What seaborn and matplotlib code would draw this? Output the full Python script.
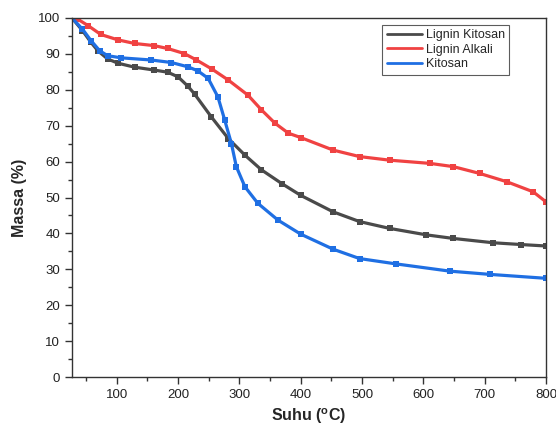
import numpy as np
import pandas as pd
import seaborn as sns
import matplotlib.pyplot as plt
from matplotlib.lines import Line2D
from matplotlib.ticker import MultipleLocator

# TGA curves
suhu_lk = [27, 44, 58, 69, 85, 102, 129, 161, 183, 200, 216, 227, 254, 282, 309, 336,
           369, 400, 453, 496, 545, 605, 649, 714, 760, 800]
massa_lk = [100, 96.5, 93.2, 90.9, 88.6, 87.4, 86.3, 85.5, 84.9, 83.6, 81.0, 78.8, 72.5, 66.4,
            61.8, 57.7, 53.9, 50.6, 46.0, 43.3, 41.4, 39.6, 38.6, 37.4, 36.9, 36.5]

suhu_la = [27, 36, 53, 74, 102, 129, 161, 183, 210, 230, 255, 282, 314, 336, 358, 380,
           400, 453, 496, 545, 611, 649, 692, 736, 779, 800]
massa_la = [100, 99.7, 97.9, 95.4, 93.9, 92.9, 92.3, 91.5, 90.1, 88.3, 85.8, 82.7, 78.5, 74.4,
            70.7, 67.9, 66.7, 63.2, 61.4, 60.4, 59.5, 58.6, 56.7, 54.4, 51.6, 48.8]

suhu_k = [27, 44, 58, 72, 85, 107, 156, 189, 216, 232, 249, 265, 276, 287, 295, 309, 330,
          363, 400, 453, 496, 556, 643, 708, 800]
massa_k = [100, 96.9, 93.7, 90.9, 89.5, 88.9, 88.3, 87.6, 86.4, 85.3, 83.2, 78.0, 71.6, 65.0,
           58.6, 53.0, 48.4, 43.7, 39.8, 35.6, 33.0, 31.5, 29.5, 28.6, 27.5]

labels = ['Lignin Kitosan', 'Lignin Alkali', 'Kitosan']
colors = ['#4a4a4a', '#f04242', '#1f6fe3']

sns.set_style('ticks')
plt.rcParams['font.family'] = ['Liberation Sans', 'DejaVu Sans']

fig = plt.figure(figsize=(5.56, 4.28), dpi=100)
ax = fig.add_axes([0.1295, 0.119, 0.8525, 0.839])

series = [(suhu_lk, massa_lk), (suhu_la, massa_la), (suhu_k, massa_k)]
for (x, y), lab, c in zip(series, labels, colors):
    sns.lineplot(x=x, y=y, ax=ax, color=c, linewidth=2.3, marker='s', markersize=4,
                 markeredgewidth=0, sort=False, legend=False,
                 solid_joinstyle='round', solid_capstyle='round')

ax.set_xlim(27, 800)
ax.set_ylim(0, 100)
ax.xaxis.set_major_locator(MultipleLocator(100))
ax.xaxis.set_minor_locator(MultipleLocator(50))
ax.yaxis.set_major_locator(MultipleLocator(10))
ax.yaxis.set_minor_locator(MultipleLocator(5))
ax.tick_params(which='major', direction='out', length=5, width=1, labelsize=9.5, colors='#333333')
ax.tick_params(which='minor', direction='out', length=3, width=1, colors='#333333')
ax.tick_params(labelcolor='#222222')
for s in ax.spines.values():
    s.set_color('#333333')
    s.set_linewidth(1)

ax.set_xlabel('Suhu ($^{\\mathregular{o}}$C)', fontsize=11.5, fontweight='bold', labelpad=4)
ax.set_ylabel('Massa (%)', fontsize=11.5, fontweight='bold', labelpad=8)

handles = [Line2D([], [], color=c, linewidth=2) for c in colors]
leg = ax.legend(handles, labels, loc='upper right', bbox_to_anchor=(0.922, 0.9805),
                fontsize=9, frameon=True, fancybox=False, handlelength=2.8,
                handletextpad=0.3, borderpad=0.35, labelspacing=0.2, borderaxespad=0)
leg.get_frame().set_edgecolor('#333333')
leg.get_frame().set_linewidth(0.8)

fig.savefig('out.png', dpi=100)
